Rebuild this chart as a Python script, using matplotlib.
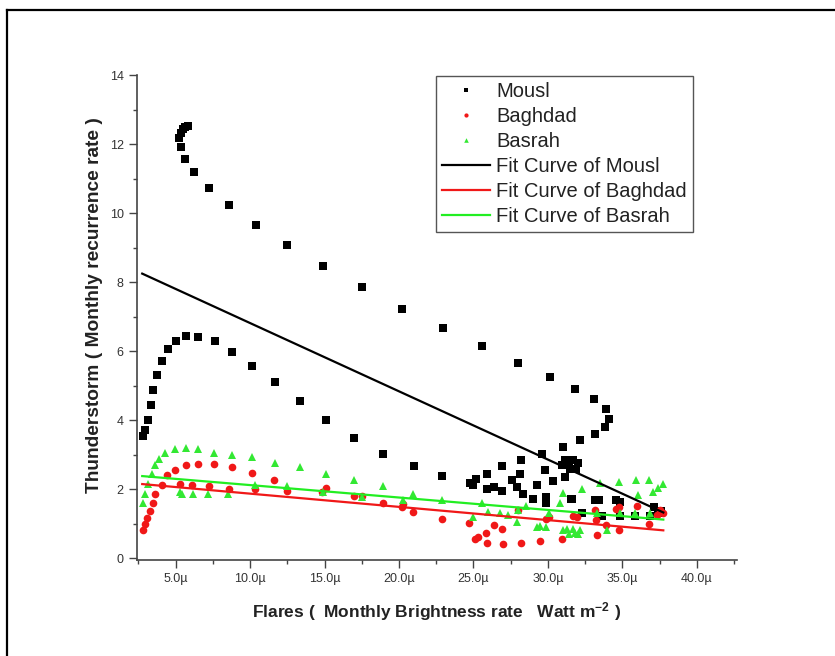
import numpy as np
import matplotlib
matplotlib.use('Agg')
from matplotlib import pyplot as plt
from matplotlib.lines import Line2D
from matplotlib.ticker import MultipleLocator, FuncFormatter

plt.rcParams['font.family'] = ['Liberation Sans', 'DejaVu Sans']
plt.rcParams['mathtext.fontset'] = 'custom'
plt.rcParams['mathtext.rm'] = 'Liberation Sans'
plt.rcParams['mathtext.bf'] = 'Liberation Sans:bold'
plt.rcParams['mathtext.default'] = 'bf'

# x in micro Watt m^-2, y = monthly recurrence rate
mousl_x = [2.78, 2.96, 3.14, 3.34, 3.50, 3.77, 4.06, 4.50, 5.02, 5.71, 6.52, 7.66, 8.80, 10.14,
           11.67, 13.33, 15.09, 17.0, 18.94, 21.0, 22.9,
           24.77, 25.2, 24.97, 25.9, 25.9, 26.4, 26.93, 26.93, 27.57, 27.9, 28.12, 28.19, 28.3,
           29.0, 29.24, 29.58, 29.8, 29.9, 30.32, 30.92, 31.03, 31.15, 31.15, 31.6, 31.4, 31.7,
           32.0, 31.9, 31.5, 32.15, 33.16, 33.83, 34.12, 33.88, 33.1, 33.16, 34.6, 33.45, 33.6,
           34.85, 34.85, 35.85, 36.86, 37.1, 37.6, 37.4, 32.27, 31.55, 29.9,
           5.24, 5.33, 5.47, 5.64, 5.85, 5.34, 5.63, 6.25, 7.24, 8.6, 10.39, 12.47, 14.87, 17.53,
           20.2, 22.93, 25.55, 27.97, 30.14, 31.82]
mousl_y = [3.55, 3.73, 4.02, 4.43, 4.87, 5.30, 5.72, 6.05, 6.29, 6.43, 6.41, 6.29, 5.98, 5.58,
           5.11, 4.56, 4.02, 3.49, 3.02, 2.67, 2.37,
           2.17, 2.31, 2.12, 2.45, 2.0, 2.07, 2.68, 1.94, 2.26, 2.07, 2.45, 2.84, 1.86,
           1.71, 2.12, 3.03, 2.55, 1.78, 2.23, 2.70, 3.23, 2.84, 2.36, 1.73, 2.80, 2.85,
           2.75, 2.60, 2.60, 3.42, 3.61, 3.81, 4.03, 4.32, 4.60, 1.68, 1.68, 1.68, 1.22,
           1.63, 1.22, 1.22, 1.22, 1.48, 1.37, 1.30, 1.30, 1.71, 1.59,
           12.17, 12.31, 12.43, 12.50, 12.53, 11.9, 11.57, 11.18, 10.74, 10.22, 9.66, 9.08, 8.46, 7.85,
           7.23, 6.66, 6.14, 5.67, 5.26, 4.90]

baghdad_x = [2.78, 2.94, 3.09, 3.25, 3.46, 3.63, 4.06, 4.4, 4.95, 5.69, 6.52, 7.59, 8.76, 10.14,
             11.62, 15.09, 17.5, 18.94, 20.96, 22.87, 24.72,
             5.29, 6.07, 7.24, 8.6, 10.33, 12.5, 14.8, 17.0, 20.25, 20.17,
             25.1, 25.3, 25.84, 25.89, 26.4, 26.9, 26.96, 27.97, 28.17, 29.47, 29.87, 30.1, 30.92,
             31.7, 31.93, 33.16, 33.2, 33.27, 33.88, 34.6, 34.77, 34.77, 35.96, 36.8, 37.5, 37.3, 37.7]
baghdad_y = [0.81, 0.99, 1.17, 1.36, 1.60, 1.87, 2.12, 2.41, 2.55, 2.70, 2.74, 2.72, 2.65, 2.48,
             2.28, 2.05, 1.80, 1.59, 1.34, 1.15, 1.02,
             2.16, 2.12, 2.10, 2.02, 2.0, 1.94, 1.92, 1.81, 1.57, 1.49,
             0.57, 0.62, 0.74, 0.43, 0.96, 0.86, 0.40, 1.39, 0.43, 0.49, 1.15, 1.20, 0.57,
             1.22, 1.20, 1.41, 1.10, 0.67, 0.96, 1.44, 1.49, 0.81, 1.51, 1.00, 1.39, 1.25, 1.30]

basrah_x = [2.78, 2.94, 3.16, 3.39, 3.61, 3.9, 4.28, 4.95, 5.69, 6.52, 7.59, 8.76, 10.14, 11.67,
            13.33, 15.09, 17.0, 18.94, 20.96, 22.86, 25.55, 28.0,
            5.29, 5.4, 6.18, 7.19, 8.53, 10.33, 12.5, 14.9, 17.5, 20.25,
            24.95, 26.0, 26.78, 27.3, 27.9, 28.5, 29.24, 29.47, 29.9, 30.1, 30.8, 31.03, 31.03,
            31.26, 31.4, 31.7, 31.8, 32.0, 32.15, 32.3, 33.27, 33.5, 33.94, 34.8, 34.85, 35.85,
            35.9, 36.07, 36.8, 36.86, 37.07, 37.4, 37.75]
basrah_y = [1.60, 1.87, 2.16, 2.45, 2.70, 2.89, 3.05, 3.17, 3.20, 3.18, 3.06, 2.99, 2.92, 2.76,
            2.63, 2.45, 2.26, 2.10, 1.86, 1.68, 1.59, 1.41,
            1.92, 1.85, 1.87, 1.87, 1.87, 2.12, 2.08, 1.92, 1.78, 1.68,
            1.20, 1.35, 1.30, 1.25, 1.05, 1.50, 0.91, 0.93, 0.91, 1.30, 1.59, 1.89, 0.81,
            0.86, 0.70, 0.84, 0.72, 0.69, 0.81, 2.02, 1.30, 2.18, 0.81, 2.21, 1.30, 1.30,
            2.26, 1.83, 2.26, 1.30, 1.92, 2.05, 2.16]

# linear fit coefficients (intercept, slope)
fit_names = ['Mousl', 'Baghdad', 'Basrah']
fit_intercepts = [8.79, 2.255, 2.48]
fit_slopes = [-0.1977, -0.0383, -0.036]
fit_range = [2.75, 37.75]

fig = plt.figure(figsize=(8.35, 6.56), dpi=100)
ax = fig.add_axes([137 / 835, 1 - 560 / 656, 600 / 835, (560 - 75) / 656])

ax.plot(mousl_x, mousl_y, 's', color='black', ms=5.3, mew=0, label='Mousl')
ax.plot(baghdad_x, baghdad_y, 'o', color='#f01818', ms=5.5, mew=0, label='Baghdad')
ax.plot(basrah_x, basrah_y, '^', color='#33e833', ms=6, mew=0, label='Basrah')

fit_colors = ['black', '#f01818', '#22ee22']
xx = np.array(fit_range)
for name, a, b, c in zip(fit_names, fit_intercepts, fit_slopes, fit_colors):
    ax.plot(xx, a + b * xx, '-', color=c, lw=1.6, label='Fit Curve of ' + name)

ax.set_xlim(2.4, 42.7)
ax.set_ylim(-0.05, 14)
ax.xaxis.set_major_locator(MultipleLocator(5))
ax.xaxis.set_minor_locator(MultipleLocator(2.5))
ax.yaxis.set_major_locator(MultipleLocator(2))
ax.yaxis.set_minor_locator(MultipleLocator(1))
ax.xaxis.set_major_formatter(FuncFormatter(lambda v, p: '%.1f\u00b5' % v))
ax.yaxis.set_major_formatter(FuncFormatter(lambda v, p: '%d' % v))

for s in ['top', 'right']:
    ax.spines[s].set_visible(False)
for s in ['left', 'bottom']:
    ax.spines[s].set_color('#444444')
    ax.spines[s].set_linewidth(1.2)
ax.tick_params(which='major', direction='out', length=6, width=1, color='#444444',
               labelsize=9, labelcolor='#333333')
ax.tick_params(which='minor', direction='out', length=3, width=1, color='#444444')

ax.set_xlabel('Flares (  Monthly Brightness rate   Watt m$^{-2}$ )', fontsize=12.5,
              fontweight='bold', color='#222222', labelpad=11)
ax.set_ylabel('Thunderstorm ( Monthly recurrence rate )', fontsize=13.8,
              fontweight='bold', color='#222222')
ax.yaxis.set_label_coords(-0.056, 0.526)

leg = ax.legend(loc='upper left', bbox_to_anchor=(436 / 835, 1 - 76 / 656),
                bbox_transform=fig.transFigure, borderaxespad=0, fancybox=False,
                framealpha=1, edgecolor='#555555', fontsize=14.5, markerscale=0.55,
                handlelength=2.4, handletextpad=0.3, labelspacing=0.3, borderpad=0.3)
leg.get_frame().set_linewidth(1)
for t in leg.get_texts():
    t.set_color('#222222')

# page frame around the figure
fig.add_artist(Line2D([7 / 835, 7 / 835], [0, 1 - 10 / 656], color='black', lw=1.6,
                      transform=fig.transFigure))
fig.add_artist(Line2D([7 / 835, 1], [1 - 10 / 656, 1 - 10 / 656], color='black', lw=1.6,
                      transform=fig.transFigure))

plt.savefig('out.png', dpi=100)
